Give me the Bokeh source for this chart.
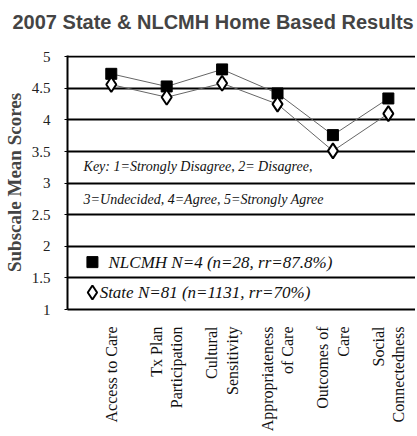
import math
from bokeh.plotting import figure
from bokeh.models import Range1d, FixedTicker, Label, Title
from bokeh.embed import file_html
from bokeh.resources import INLINE

categories = ["Access to Care", "Tx Plan\nParticipation", "Cultural\nSensitivity",
              "Appropriateness\nof Care", "Outcomes of\nCare", "Social\nConnectedness"]
nlcmh = [4.73, 4.53, 4.80, 4.42, 3.76, 4.34]
state = [4.56, 4.36, 4.58, 4.25, 3.51, 4.10]
y_ticks = [1, 1.5, 2, 2.5, 3, 3.5, 4, 4.5, 5]
y_labels = ["1", "1.5", "2", "2.5", "3", "3.5", "4", "4.5", "5"]
key_lines = ["Key: 1=Strongly Disagree, 2= Disagree,", "3=Undecided, 4=Agree, 5=Strongly Agree"]
legend_labels = ["NLCMH N=4 (n=28, rr=87.8%)", "State N=81 (n=1131, rr=70%)"]

xs = list(range(len(categories)))

# approximate Times/Liberation Serif advance widths (per 1000 em) to right-align
# the lines of the rotated multi-line category labels
_w = {" ": 250, "A": 722, "C": 667, "O": 722, "P": 556, "S": 556, "T": 611, "a": 444,
      "b": 500, "c": 444, "d": 500, "e": 444, "f": 333, "g": 500, "h": 500, "i": 278,
      "l": 278, "m": 778, "n": 500, "o": 500, "p": 500, "r": 333, "s": 389, "t": 278,
      "u": 500, "v": 500, "x": 500, "y": 500}


def _width(s):
    return sum(_w.get(ch, 500) for ch in s)


def right_align(label):
    lines = label.split("\n")
    m = max(_width(l) for l in lines)
    return "\n".join("\u00a0" * round((m - _width(l)) / 250) + l for l in lines)


tick_text = [right_align(c) for c in categories]

W, H = 415, 434
p = figure(width=W, height=H, output_backend="svg", toolbar_location=None,
           x_range=Range1d(-0.79, 5.49), y_range=Range1d(1, 5.02),
           min_border_left=67, min_border_right=0, min_border_top=55,
           min_border_bottom=H - 310, title=None)
p.outline_line_color = None
p.background_fill_color = "white"

p.add_layout(Title(text=" ", text_font_size="19px", standoff=0), "above")
p.add_layout(Title(text="2007 State & NLCMH Home Based Results", text_font="Liberation Sans",
                   text_font_style="bold", text_font_size="20px", align="left",
                   offset=-55, standoff=0), "above")

# grid
p.xgrid.visible = False
p.ygrid.ticker = FixedTicker(ticks=y_ticks)
p.ygrid.grid_line_color = "black"
p.ygrid.grid_line_width = 2

# y axis
p.yaxis.ticker = FixedTicker(ticks=y_ticks)
p.yaxis.major_label_overrides = {t: l for t, l in zip(y_ticks, y_labels)}
p.yaxis.major_label_text_font = "Liberation Serif"
p.yaxis.major_label_text_font_size = "15px"
p.yaxis.major_label_text_color = "#222222"
p.yaxis.major_label_standoff = 14
p.yaxis.axis_line_color = "black"
p.yaxis.axis_line_width = 2
p.yaxis.major_tick_out = 3
p.yaxis.major_tick_in = 0
p.yaxis.minor_tick_line_color = None
p.yaxis.axis_label = "Subscale Mean Scores"
p.yaxis.axis_label_text_font = "Liberation Serif"
p.yaxis.axis_label_text_font_style = "bold"
p.yaxis.axis_label_text_font_size = "19px"
p.yaxis.axis_label_standoff = 4

# x axis
p.xaxis.ticker = FixedTicker(ticks=xs)
p.xaxis.major_label_overrides = {x: c for x, c in zip(xs, tick_text)}
p.xaxis.major_label_orientation = math.pi / 2
p.xaxis.major_label_text_font = "Liberation Serif"
p.xaxis.major_label_text_font_size = "16px"
p.xaxis.major_label_text_color = "#111111"
p.xaxis.major_label_standoff = 11
p.xaxis.axis_line_color = "black"
p.xaxis.axis_line_width = 2
p.xaxis.major_tick_line_color = None
p.xaxis.minor_tick_line_color = None

# lines and markers
p.line(xs, nlcmh, line_color="#666666", line_width=1)
p.line(xs, state, line_color="#666666", line_width=1)
p.scatter(xs, nlcmh, marker="square", size=11, fill_color="black", line_color="black")
p.scatter(xs, state, marker="diamond", size=15, fill_color="white", line_color="black", line_width=2)

# key text
for yv, txt in zip([3.26, 2.74], key_lines):
    p.add_layout(Label(x=-0.5, y=yv, text=txt, text_font="Liberation Serif",
                       text_font_style="italic", text_font_size="14px",
                       text_baseline="middle", text_color="#111111"))

# legend rows
p.scatter([-0.34], [1.75], marker="square", size=11, fill_color="black", line_color="black")
p.scatter([-0.34], [1.27], marker="diamond", size=14, fill_color="white", line_color="black", line_width=2)
for xv, yv, txt in zip([-0.05, -0.21], [1.75, 1.27], legend_labels):
    p.add_layout(Label(x=xv, y=yv, text=txt, text_font="Liberation Serif",
                       text_font_style="italic", text_font_size="17px",
                       text_baseline="middle", text_color="#111111"))

open("out.html", "w").write(file_html(p, INLINE))
